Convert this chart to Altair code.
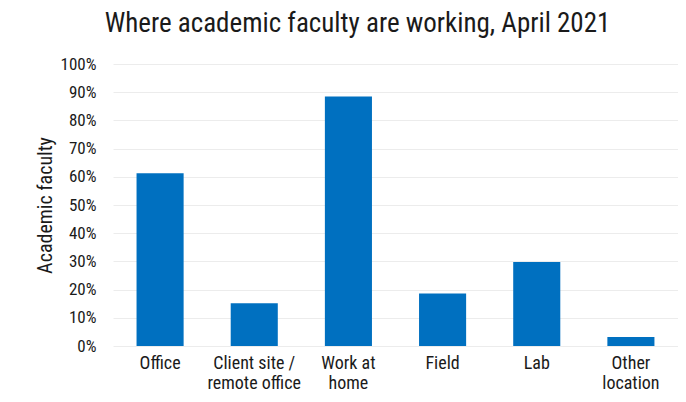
import altair as alt
import pandas as pd

categories = ["Office", "Client site /|remote office", "Work at|home", "Field", "Lab", "Other|location"]
shares = [0.613, 0.152, 0.885, 0.186, 0.298, 0.032]
y_ticks = [0, 0.1, 0.2, 0.3, 0.4, 0.5, 0.6, 0.7, 0.8, 0.9, 1.0]

df = pd.DataFrame({"location": categories, "share": shares})

FONT = "Roboto Condensed, Roboto, Liberation Sans Narrow, sans-serif"

chart = (
    alt.Chart(df)
    .mark_bar(color="#0070C0")
    .encode(
        x=alt.X(
            "location:N",
            sort=categories,
            title=None,
            scale=alt.Scale(paddingInner=0.5, paddingOuter=0.25),
            axis=alt.Axis(
                labelAngle=0,
                labelExpr="split(datum.label, '|')",
                labelFontSize=18,
                labelLineHeight=20,
                labelPadding=8,
                labelColor="#1a1a1a",
                labelFont=FONT,
                domain=False,
                ticks=False,
                grid=False,
            ),
        ),
        y=alt.Y(
            "share:Q",
            title="Academic faculty",
            scale=alt.Scale(domain=[0, 1]),
            axis=alt.Axis(
                values=y_ticks,
                format=".0%",
                labelFontSize=17,
                labelColor="#1a1a1a",
                labelFont=FONT,
                labelPadding=17,
                titleFont=FONT,
                titleFontSize=20,
                titleFontWeight="normal",
                titleColor="#1a1a1a",
                titlePadding=5,
                domain=False,
                ticks=False,
                gridColor="#ececec",
                gridWidth=1,
            ),
        ),
    )
    .properties(
        width=565,
        height=282,
        padding={"left": 105, "top": 56, "right": 0, "bottom": 48},
        autosize=alt.AutoSizeParams(type="none"),
        title=alt.TitleParams(
            "Where academic faculty are working, April 2021",
            font=FONT,
            fontSize=27,
            fontWeight="normal",
            color="#1a1a1a",
            anchor="middle",
            dx=-38,
            offset=17,
        ),
    )
    .configure_view(stroke=None)
)

chart.save("out.html", embed_options={"renderer": "svg", "actions": False})
